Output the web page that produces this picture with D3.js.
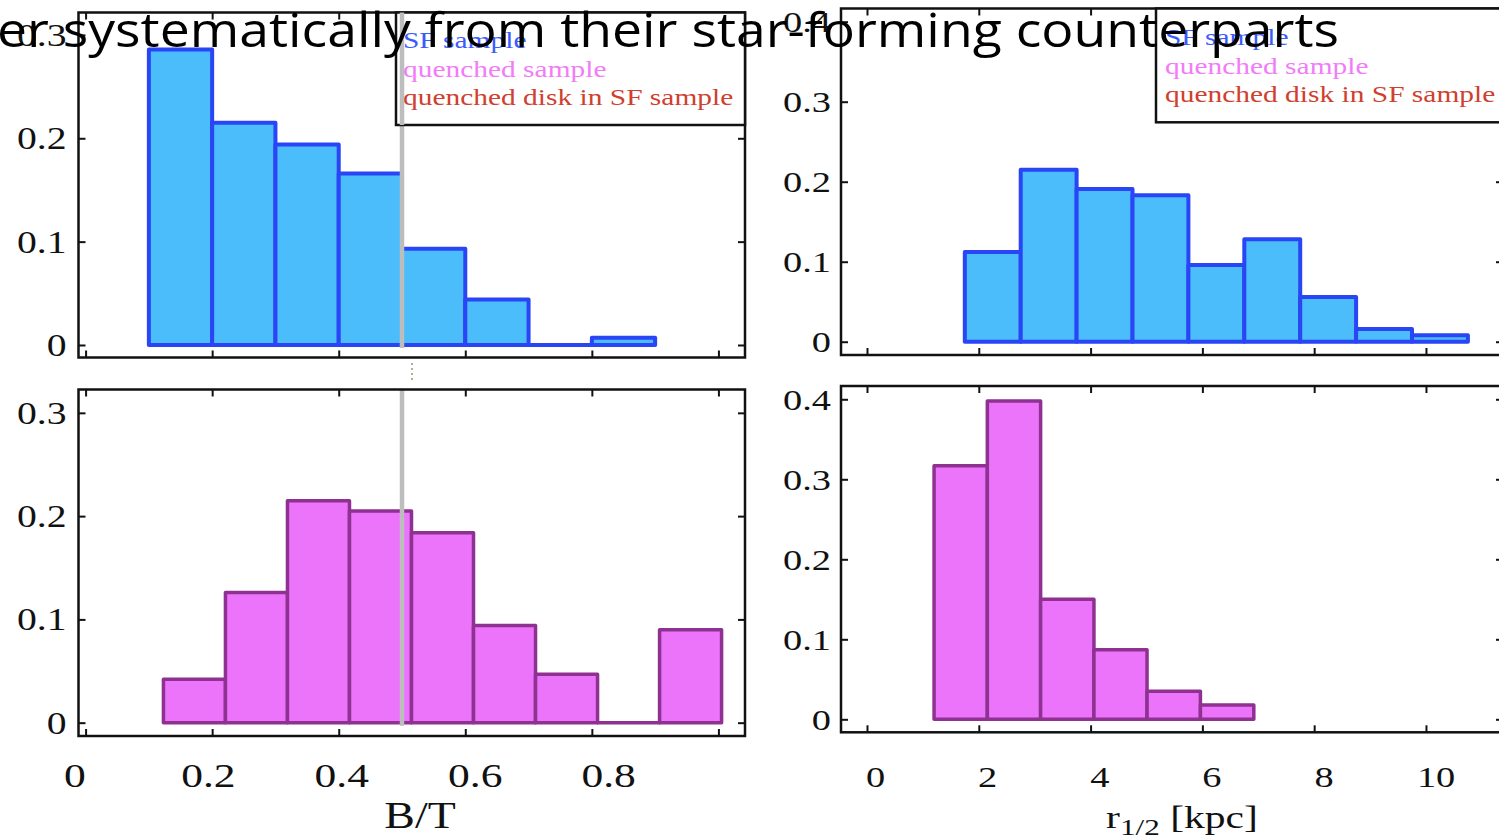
<!DOCTYPE html>
<html><head><meta charset="utf-8">
<script src="https://cdn.jsdelivr.net/npm/d3@7"></script>
<style>body{margin:0;background:#fff;} svg{display:block;}</style>
</head><body>
<svg id="c" width="1499" height="838"></svg>
<script>
// ---------- data ----------
const titleText = "er systematically from their star-forming counterparts";
const legendLabels = ["SF sample", "quenched sample", "quenched disk in SF sample"];
const legendColors = ["#3a5cff", "#f27cf7", "#d0402e"];

const btXTicks = [0, 0.2, 0.4, 0.6, 0.8, 1.0];
const btXLabels = [0, 0.2, 0.4, 0.6, 0.8];
const btYTicks = [0, 0.1, 0.2, 0.3];
const rXTicks = [0, 2, 4, 6, 8, 10];
const rXLabels = [0, 2, 4, 6, 8, 10];
const rYTicks = [0, 0.1, 0.2, 0.3, 0.4];

const btEdgesSF = [0.1, 0.2, 0.3, 0.4, 0.5, 0.6, 0.7, 0.8, 0.9];
const btSF = [0.286, 0.215, 0.194, 0.166, 0.093, 0.044, 0.0, 0.007];
const btEdgesQ = [0.123, 0.221, 0.319, 0.417, 0.515, 0.613, 0.711, 0.809, 0.907, 1.005];
const btQ = [0.042, 0.126, 0.215, 0.205, 0.184, 0.094, 0.047, 0.0, 0.090];
const rEdgesSF = [1.75, 2.75, 3.75, 4.75, 5.75, 6.75, 7.75, 8.75, 9.75, 10.75];
const rSF = [0.112, 0.215, 0.191, 0.183, 0.096, 0.128, 0.056, 0.016, 0.008];
const rEdgesQ = [1.2, 2.153, 3.106, 4.06, 5.01, 5.965, 6.92];
const rQ = [0.317, 0.398, 0.150, 0.087, 0.035, 0.018];
const btCut = 0.5;

// ---------- drawing ----------
const svg = d3.select("#c");
const SX = 1.28;
const serif = "'Liberation Serif','Times New Roman',serif";
const fmt = d => d === 0 ? "0" : (Number.isInteger(d) ? String(d) : d3.format(".1f")(d));

const SFstyle = {fill: "#4bbdfa", stroke: "#2a45f5", sw: 4};
const Qstyle = {fill: "#eb74fb", stroke: "#8e3190", sw: 3.5};

function panel(cfg) {
  const x = d3.scaleLinear().domain(cfg.xDom).range([cfg.left, cfg.right]);
  const y = d3.scaleLinear().domain(cfg.yDom).range([cfg.bottom, cfg.top]);
  const g = svg.append("g");
  const bins = cfg.values.map((v, i) => ({x0: cfg.edges[i], x1: cfg.edges[i + 1], v}));
  g.selectAll("path.bar").data(bins).join("path").attr("class", "bar")
    .attr("d", d => `M${x(d.x0)},${y(0)}V${y(d.v)}H${x(d.x1)}V${y(0)}Z`)
    .attr("fill", cfg.style.fill).attr("stroke", cfg.style.stroke)
    .attr("stroke-width", cfg.style.sw).attr("stroke-linejoin", "round");

  if (cfg.cut !== undefined) {
    g.append("line").attr("x1", x(cfg.cut)).attr("x2", x(cfg.cut))
      .attr("y1", cfg.top).attr("y2", y(-0.003))
      .attr("stroke", "#bdbdbd").attr("stroke-width", 4.5);
  }

  // frame
  g.append("rect").attr("x", cfg.left).attr("y", cfg.top)
    .attr("width", cfg.right - cfg.left).attr("height", cfg.bottom - cfg.top)
    .attr("fill", "none").attr("stroke", "#111").attr("stroke-width", 2.5);

  // inside ticks on all four sides
  const tickAxes = [
    [d3.axisBottom(x).tickValues(cfg.xTicks), `translate(0,${cfg.bottom})`],
    [d3.axisTop(x).tickValues(cfg.xTicks), `translate(0,${cfg.top})`],
    [d3.axisLeft(y).tickValues(cfg.yTicks), `translate(${cfg.left},0)`],
    [d3.axisRight(y).tickValues(cfg.yTicks), `translate(${cfg.right},0)`]
  ];
  tickAxes.forEach(([ax, tr]) => {
    const a = g.append("g").attr("transform", tr).call(ax.tickSize(-7).tickFormat(""));
    a.select(".domain").remove();
    a.selectAll("line").attr("stroke", "#111").attr("stroke-width", 2);
  });

  // y labels
  const yl = g.append("g").attr("transform", `translate(${cfg.left - cfg.yLabelGap},0)`)
    .call(d3.axisLeft(y).tickValues(cfg.yTicks).tickSize(0).tickFormat(fmt));
  yl.select(".domain").remove();
  yl.selectAll("text").attr("x", 0).attr("dy", "0.34em")
    .attr("transform", `scale(${SX},1)`)
    .style("font-family", serif).style("font-size", cfg.yFont + "px").attr("fill", "#111");

  // x labels
  if (cfg.xLabelRange) {
    const ls = d3.scaleLinear().domain(cfg.xLabelDom).range(cfg.xLabelRange);
    const xl = g.append("g").attr("transform", `translate(0,${cfg.xLabelBase})`)
      .call(d3.axisBottom(ls).tickValues(cfg.xLabels).tickSize(0).tickFormat(fmt));
    xl.select(".domain").remove();
    xl.selectAll("text").attr("y", 0).attr("dy", 0)
      .attr("transform", `scale(${SX},1)`)
      .style("font-family", serif).style("font-size", cfg.xFont + "px").attr("fill", "#111");
  }

  // legend
  if (cfg.legend) {
    const L = cfg.legend;
    g.append("rect").attr("x", L.x).attr("y", cfg.top).attr("width", cfg.right - L.x)
      .attr("height", L.bottom - cfg.top).attr("fill", "#fff")
      .attr("stroke", "#111").attr("stroke-width", 2.5);
    legendLabels.forEach((t, i) => {
      g.append("text").attr("transform", `translate(${L.tx},${L.base0 + i * L.step}) scale(${SX},1)`)
        .style("font-family", serif).style("font-size", "23px").attr("fill", legendColors[i]).text(t);
    });
    if (cfg.cut !== undefined) {
      g.append("line").attr("x1", x(cfg.cut)).attr("x2", x(cfg.cut))
        .attr("y1", cfg.top).attr("y2", L.bottom)
        .attr("stroke", "#bdbdbd").attr("stroke-width", 4.5);
    }
  }
  return {x, y};
}

// Top-left: B/T, SF
panel({left: 78.5, right: 745, top: 12.5, bottom: 357.5,
  xDom: [-0.0112, 1.042], yDom: [-0.0121, 0.3217],
  edges: btEdgesSF, values: btSF, style: SFstyle, cut: btCut,
  xTicks: btXTicks, yTicks: btYTicks, yLabelGap: 12, yFont: 31,
  legend: {x: 396, bottom: 125, tx: 403, base0: 48, step: 28.5}});

// Bottom-left: B/T, quenched
panel({left: 78.5, right: 745, top: 389.5, bottom: 736,
  xDom: [-0.0112, 1.042], yDom: [-0.0129, 0.3226],
  edges: btEdgesQ, values: btQ, style: Qstyle, cut: btCut,
  xTicks: btXTicks, yTicks: btYTicks, yLabelGap: 12, yFont: 31,
  xLabelRange: [74.5, 741.5], xLabelDom: [0, 1], xLabels: btXLabels, xLabelBase: 786.5, xFont: 34});

// Top-right: r1/2, SF
panel({left: 841, right: 1503, top: 8.5, bottom: 355,
  xDom: [-0.465, 11.378], yDom: [-0.0166, 0.4165],
  edges: rEdgesSF, values: rSF, style: SFstyle,
  xTicks: rXTicks, yTicks: rYTicks, yLabelGap: 10, yFont: 30,
  legend: {x: 1156, bottom: 122.3, tx: 1165, base0: 45, step: 28.5}});

// Bottom-right: r1/2, quenched
panel({left: 841, right: 1503, top: 386, bottom: 732.3,
  xDom: [-0.465, 11.378], yDom: [-0.01625, 0.4166],
  edges: rEdgesQ, values: rQ, style: Qstyle,
  xTicks: rXTicks, yTicks: rYTicks, yLabelGap: 10, yFont: 30,
  xLabelRange: [875, 1435.6], xLabelDom: [0, 10], xLabels: rXLabels, xLabelBase: 786.5, xFont: 30});

// small dotted artifact between left panels
svg.append("line").attr("x1", 412).attr("x2", 412).attr("y1", 363).attr("y2", 383)
  .attr("stroke", "#b5ab98").attr("stroke-width", 2).attr("stroke-dasharray", "2,3");

// axis titles
svg.append("text").attr("transform", `translate(420,828) scale(1.24,1)`)
  .attr("text-anchor", "middle").style("font-family", serif).style("font-size", "37px")
  .attr("fill", "#111").text("B/T");
const rt = svg.append("text").attr("transform", `translate(1182,828) scale(1.3,1)`)
  .attr("text-anchor", "middle").style("font-family", serif).style("font-size", "32px").attr("fill", "#111");
rt.append("tspan").text("r");
rt.append("tspan").attr("dy", 7).style("font-size", "24px").text("1/2");
rt.append("tspan").attr("dy", -7).text(" [kpc]");

// overlaid slide title
svg.append("text").attr("x", -3).attr("y", 47)
  .attr("textLength", 1342).attr("lengthAdjust", "spacingAndGlyphs")
  .style("font-family", "'Open Sans', sans-serif").style("font-size", "47px")
  .attr("fill", "#000").text(titleText);
</script>
</body></html>
